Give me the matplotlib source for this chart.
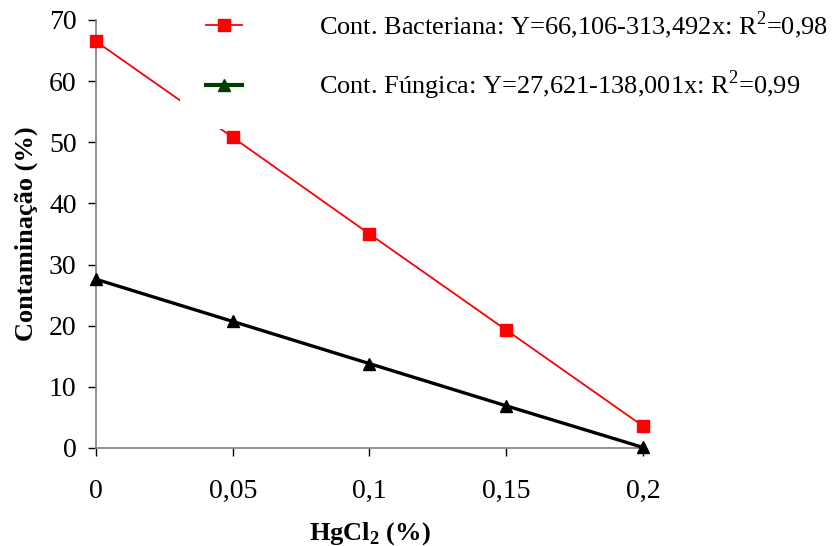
import matplotlib
matplotlib.use("Agg")
import matplotlib.pyplot as plt
from matplotlib.lines import Line2D

plt.rcParams['font.family'] = ['Liberation Serif', 'DejaVu Serif']
plt.rcParams['mathtext.fontset'] = 'custom'
plt.rcParams['mathtext.rm'] = 'Liberation Serif'
plt.rcParams['mathtext.bf'] = 'Liberation Serif:bold'

# data
hgcl2 = [0, 0.05, 0.1, 0.15, 0.2]
bacteriana = [66.5, 50.8, 35.0, 19.3, 3.6]
fungica = [27.6, 20.7, 13.8, 6.9, 0.1]
x_ticks = [0, 0.05, 0.1, 0.15, 0.2]
x_labels = ["0", "0,05", "0,1", "0,15", "0,2"]
y_ticks = [0, 10, 20, 30, 40, 50, 60, 70]
labels = ["Cont. Bacteriana: Y=66,106-313,492x: R$^2$=0,98",
          "Cont. Fúngica: Y=27,621-138,001x: R$^2$=0,99"]

fig = plt.figure(figsize=(8.36, 5.46), dpi=100)
ax = fig.add_axes([0.1148, 0.1795, 0.769 - 0.1148, 0.9634 - 0.1795])

ax.plot(hgcl2, bacteriana, color='red', lw=1.3, marker='s', ms=8, clip_on=False, zorder=3)
ax.plot(hgcl2, fungica, color='black', lw=2.4, marker='^', ms=9, clip_on=False, zorder=3)

ax.set_xlim(0, 0.2)
ax.set_ylim(0, 70)
ax.set_xticks(x_ticks)
ax.set_xticklabels(x_labels)
ax.set_yticks(y_ticks)
ax.tick_params(labelsize=20, length=6, width=1, direction='out', pad=8)
ax.tick_params(axis='x', pad=16)

for s in ['top', 'right']:
    ax.spines[s].set_visible(False)
for s in ['left', 'bottom']:
    ax.spines[s].set_color('#808080')
    ax.spines[s].set_linewidth(1.2)

ax.set_xlabel("HgCl$_\\mathbf{2}$ (%)", fontsize=19, fontweight='bold', labelpad=12)
ax.set_ylabel("Contaminação (%)", fontsize=19, fontweight='bold', labelpad=8)

handles = [Line2D([], [], color='red', lw=1.3, marker='s', ms=8),
           Line2D([], [], color='#003d00', lw=3, marker='^', ms=9)]
leg = fig.legend(handles, labels, loc='upper left', bbox_to_anchor=(180 / 836, 1 + 17 / 546),
                 fontsize=19, frameon=True, facecolor='white', edgecolor='none', framealpha=1,
                 borderpad=1.0, borderaxespad=0, handlelength=1.36, handletextpad=2.9,
                 labelspacing=1.05)
leg.set_zorder(5)

plt.savefig("out.png", dpi=100)
